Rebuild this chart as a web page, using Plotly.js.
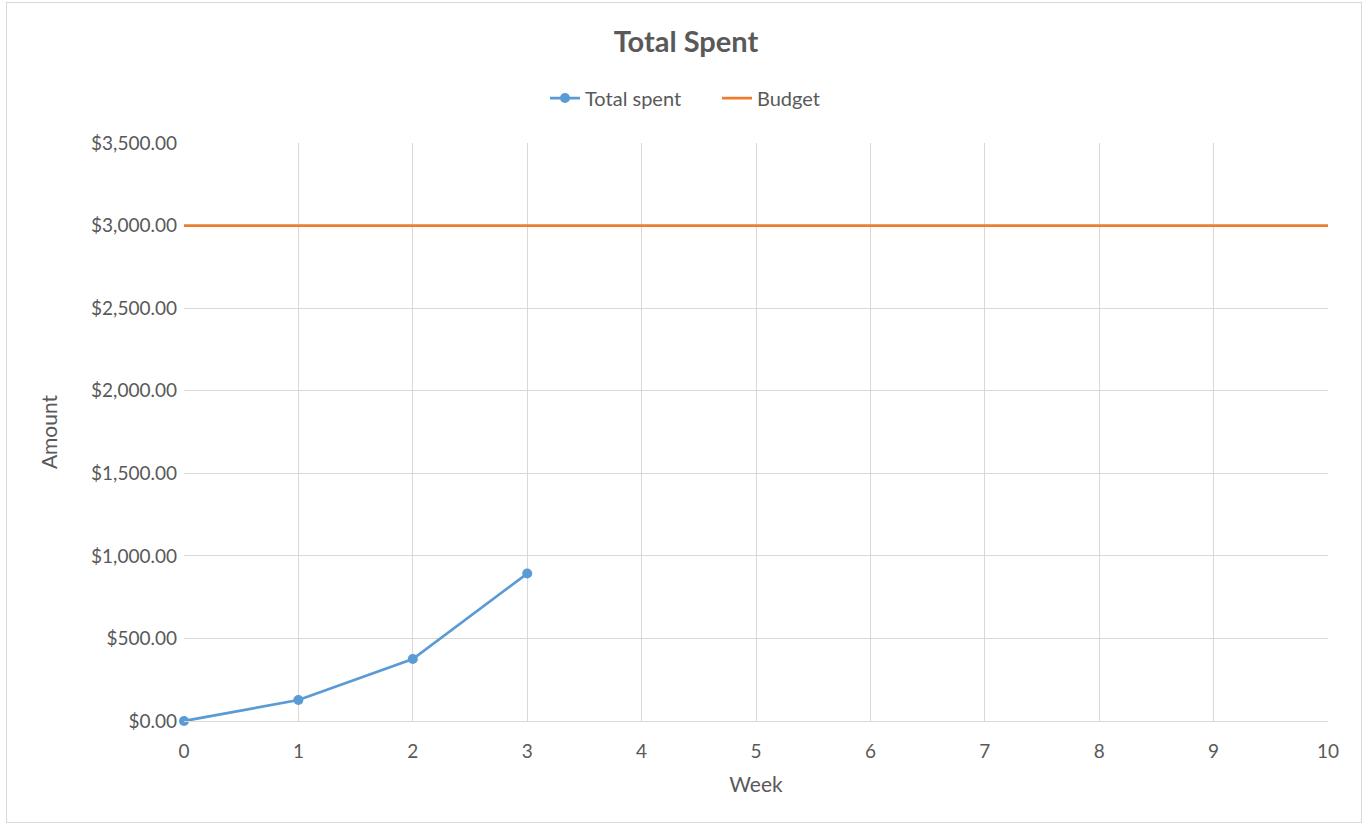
<!DOCTYPE html>
<html>
<head>
<meta charset="utf-8">
<script src="https://cdn.plot.ly/plotly-3.0.1.min.js"></script>
<style>
  html, body { margin: 0; padding: 0; background: #fff; }
  #frame { position: absolute; left: 6px; top: 2px; width: 1356px; height: 821px; border: 1px solid #d9d9d9; box-sizing: border-box; }
  #chart { position: absolute; left: 0; top: 0; width: 1364px; height: 826px; }
</style>
</head>
<body>
<div id="frame"></div>
<div id="chart"></div>
<script>
const weeks = [0, 1, 2, 3];
const totalSpent = [0, 127, 375, 893];
const budgetWeeks = [0, 10];
const budgetValues = [3000, 3000];
const xTicks = [0, 1, 2, 3, 4, 5, 6, 7, 8, 9, 10];
const yTicks = [0, 500, 1000, 1500, 2000, 2500, 3000, 3500];

const font = "Lato, 'Open Sans', sans-serif";
const grey = "#595959";

const traces = [
  {
    x: weeks, y: totalSpent, name: "Total spent", type: "scatter", mode: "lines+markers",
    line: { color: "#5B9BD5", width: 2.75 },
    marker: { color: "#5B9BD5", size: 10 },
    cliponaxis: false
  },
  {
    x: budgetWeeks, y: budgetValues, name: "Budget", type: "scatter", mode: "lines",
    line: { color: "#ED7D31", width: 2.75 }
  }
];

const layout = {
  width: 1364, height: 826,
  paper_bgcolor: "rgba(0,0,0,0)", plot_bgcolor: "rgba(0,0,0,0)",
  margin: { l: 184, r: 36, t: 143, b: 105 },
  font: { family: font, color: grey, size: 19 },
  title: { text: "<b>Total Spent</b>", font: { family: font, size: 29, color: grey }, x: 686 / 1364, xref: "container", xanchor: "center", y: 1 - 42 / 826, yref: "container", yanchor: "middle" },
  showlegend: true,
  legend: { orientation: "h", x: (545 - 184) / 1144, xanchor: "left", y: 1 + 45 / 578, yanchor: "middle", font: { size: 20, color: grey }, traceorder: "normal", entrywidth: 127, entrywidthmode: "pixels" },
  xaxis: {
    range: [0, 10], tickvals: xTicks, ticktext: xTicks.map(String),
    showgrid: true, gridcolor: "#d9d9d9", gridwidth: 1,
    zeroline: false, showline: true, linecolor: "#d9d9d9", linewidth: 1,
    ticks: "", ticklabelstandoff: 13, tickfont: { size: 19, color: grey },
    title: { text: "Week", font: { size: 21, color: grey }, standoff: 16 },
    automargin: false,
    fixedrange: true
  },
  yaxis: {
    range: [0, 3500], tickvals: yTicks, tickformat: "$,.2f",
    showgrid: true, gridcolor: "#d9d9d9", gridwidth: 1,
    zeroline: false, showline: false,
    ticks: "", ticklabelstandoff: 6, tickfont: { size: 19, color: grey },
    title: { text: "Amount", font: { size: 21, color: grey }, standoff: 27 },
    automargin: false,
    fixedrange: true
  }
};

Plotly.newPlot("chart", traces, layout, { displayModeBar: false, staticPlot: true });
</script>
</body>
</html>
